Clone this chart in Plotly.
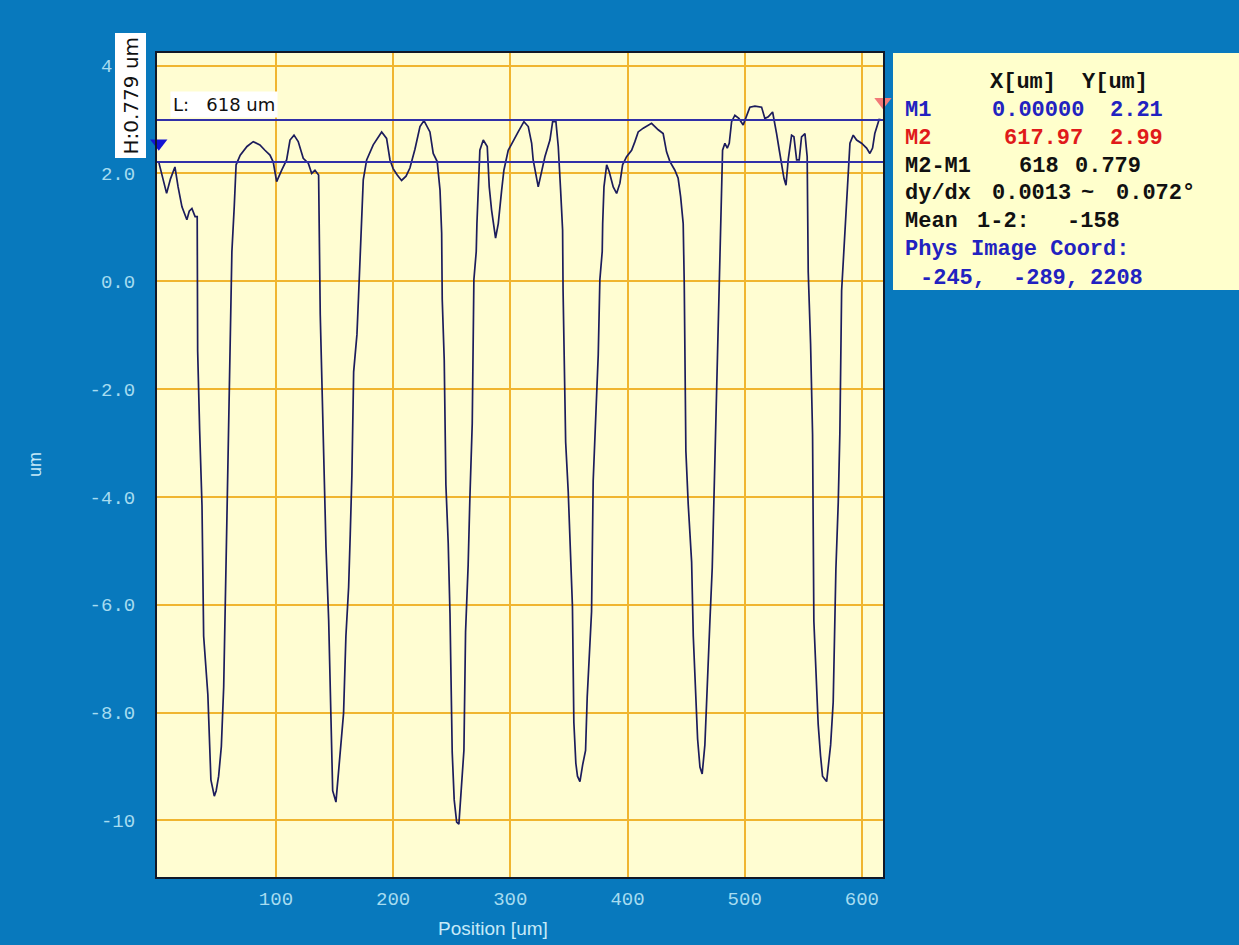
import plotly.graph_objects as go

# ---------------- data ----------------
position_um = [
    0.0, 3.0, 6.7, 10.0, 13.8, 16.5, 19.8, 24.0, 26.0, 28.3, 31.0, 32.8,
    33.2, 34.9, 36.9, 38.3, 40.5, 41.9, 44.5, 47.4, 49.0, 51.1, 53.4, 55.4, 58.2, 59.6, 61.0, 62.4,
    64.4, 66.0, 69.5, 75.3, 80.6, 86.3, 90.6, 94.9, 97.7, 100.6, 104.9, 109.1, 112.0, 115.4, 119.0, 123.3, 127.6, 130.5, 133.3, 136.4,
    137.8, 140.7, 142.7, 145.0, 146.3, 148.4, 151.2, 154.9, 157.7, 159.7, 162.0, 163.4, 164.8, 166.3, 169.1, 170.5, 171.9,
    173.1, 174.5, 177.4, 183.0, 190.2, 194.4, 197.3, 200.0, 203.5, 207.2, 211.0, 214.3, 218.6, 222.9, 226.3, 231.4, 234.2, 237.6, 240.0, 241.4,
    241.9, 243.6, 245.0, 247.0, 248.5, 250.4, 252.1, 254.2, 256.1, 258.4, 260.4, 261.8, 264.0, 265.5, 267.5, 268.9, 270.9,
    271.5, 272.6, 274.0, 276.9, 280.3, 282.0, 284.0, 287.4, 289.7, 292.6, 294.5, 298.2, 302.5, 306.7, 311.6, 315.3, 318.2, 319.5, 323.8, 326.7, 329.5, 333.8, 336.1, 338.9, 340.9, 342.9, 344.6,
    345.0, 345.7, 347.2, 349.4, 351.4, 353.0, 354.2, 355.9, 357.3, 359.4, 361.7, 364.2, 365.6, 367.3, 369.3, 370.7, 372.7, 375.0, 376.4, 378.4,
    378.8, 379.9, 382.2, 384.4, 387.8, 390.7, 393.5, 395.8, 399.2, 403.5, 406.3, 409.1, 413.4, 419.1, 420.5, 426.2, 430.4, 433.3, 436.2, 440.4, 443.2, 445.3, 447.5,
    448.4, 449.8, 451.8, 453.3, 454.7, 456.1, 458.0, 459.8, 461.8, 463.7, 466.0, 468.3, 470.3, 472.3, 473.7, 476.0, 477.4, 478.8,
    479.3, 481.1, 483.1, 485.1, 486.8, 488.8, 491.6, 495.0, 498.7, 501.0, 504.4, 508.7, 514.4, 517.2, 520.1, 523.8, 525.2, 527.2, 529.5, 531.5, 533.5, 535.2, 537.1, 540.0, 542.0, 544.3, 546.5, 548.5, 551.4, 553.3,
    554.2, 556.2, 557.9, 559.0, 560.8, 562.7, 564.7, 566.4, 569.9, 573.3, 575.5, 577.8, 579.8, 581.2, 582.7, 584.6,
    586.3, 588.3, 589.8, 592.6, 595.5, 599.7, 604.0, 606.8, 609.1, 611.0, 613.0, 614.7, 617.97,
]
height_um = [
    2.21, 1.95, 1.63, 1.90, 2.12, 1.75, 1.38, 1.14, 1.30, 1.35, 1.20, 1.20,
    -1.30, -2.77, -4.16, -6.58, -7.26, -7.67, -9.25, -9.55, -9.45, -9.18, -8.63, -7.53, -4.35, -2.67, -1.13, 0.55,
    1.38, 2.16, 2.34, 2.50, 2.59, 2.53, 2.43, 2.34, 2.21, 1.85, 2.06, 2.25, 2.62, 2.71, 2.59, 2.28, 2.19, 2.00, 2.06, 1.97,
    -0.62, -3.49, -4.93, -6.30, -7.74, -9.45, -9.66, -8.70, -8.01, -6.58, -5.68, -4.69, -3.60, -1.68, -0.99, -0.27, 0.55,
    1.26, 1.88, 2.25, 2.53, 2.77, 2.65, 2.25, 2.09, 1.97, 1.87, 1.95, 2.10, 2.45, 2.87, 2.98, 2.77, 2.37, 2.22, 1.69, 0.89,
    -0.34, -1.47, -3.77, -4.86, -6.16, -8.73, -9.62, -10.03, -10.07, -9.38, -8.70, -6.51, -5.27, -4.01, -2.64, 0.03, 0.55,
    1.07, 1.82, 2.43, 2.62, 2.50, 1.75, 1.32, 0.80, 1.07, 1.69, 2.06, 2.43, 2.59, 2.77, 2.96, 2.87, 2.56, 2.25, 1.75, 2.06, 2.31, 2.62, 2.96, 2.96, 2.50, 1.69, 0.95,
    -0.17, -1.23, -2.98, -3.90, -4.97, -6.03, -8.18, -8.94, -9.18, -9.28, -8.97, -8.70, -7.71, -7.02, -6.13, -3.70, -2.57, -1.37, 0.03, 0.55,
    1.07, 1.75, 2.16, 2.03, 1.75, 1.63, 1.82, 2.16, 2.31, 2.43, 2.59, 2.77, 2.84, 2.90, 2.93, 2.81, 2.74, 2.40, 2.22, 2.06, 1.91, 1.57, 1.07,
    -0.03, -3.15, -4.14, -4.76, -5.21, -6.58, -7.57, -8.49, -9.01, -9.14, -8.60, -7.19, -6.30, -5.31, -4.08, -1.58, -0.31, 0.55,
    0.95, 2.43, 2.56, 2.47, 2.56, 2.96, 3.08, 3.02, 2.90, 3.05, 3.23, 3.25, 3.23, 3.02, 3.05, 3.14, 2.99, 2.74, 2.43, 2.12, 1.91, 1.78, 2.25, 2.71, 2.68, 2.25, 2.25, 2.68, 2.74, 2.31,
    0.17, -1.16, -2.84, -6.30, -7.43, -8.22, -8.80, -9.18, -9.28, -8.60, -7.81, -5.34, -4.11, -2.81, -0.17, 0.55,
    1.38, 2.00, 2.56, 2.71, 2.62, 2.56, 2.47, 2.37, 2.47, 2.74, 2.90, 3.00, 2.99,
]

marker_names = ["M1", "M2"]
marker_x_um = [0.00000, 617.97]
marker_y_um = [2.21, 2.99]
delta_x_um = "618"
delta_y_um = "0.779"
slope_dydx = "0.0013"
slope_angle = "0.072°"
mean_12 = "-158"
phys_coord = ["-245,", "-289,", "2208"]

x_tickvals = [100, 200, 300, 400, 500, 600]
x_ticktext = ["100", "200", "300", "400", "500", "600"]
y_tickvals = [4, 2, 0, -2, -4, -6, -8, -10]
y_ticktext = ["4.0", "2.0", "0.0", "-2.0", "-4.0", "-6.0", "-8.0", "-10"]

# ---------------- layout helpers (pixel -> paper) ----------------
W, H = 1239, 945
PL, PR, PT, PB = 157, 883, 53, 877


def fx(px):
    return (px - PL) / (PR - PL)


def fy(py):
    return (PB - py) / (PB - PT)


BG = "#0879bd"
PLOT_BG = "#fffdd2"
GRID = "#f0b530"
TICK_COL = "#a6dcf0"
TITLE_COL = "#c6eaf8"
CURVE = "#1c1c5c"
MLINE = "#3030a8"
BLUE_TXT = "#2222c0"
RED_TXT = "#e01a1a"
BLK_TXT = "#111111"

fig = go.Figure()

fig.add_trace(go.Scatter(
    x=position_um, y=height_um, mode="lines",
    line=dict(color=CURVE, width=1.7), showlegend=False, hoverinfo="skip",
))

# marker triangles (drawn just above each marker line)
tri_y = [marker_y_um[0] + 0.35, marker_y_um[1] + 0.34]
fig.add_trace(go.Scatter(
    x=marker_x_um, y=tri_y, mode="markers", cliponaxis=False,
    marker=dict(symbol="triangle-down", size=15, color=["#1414d4", "#f27a78"],
                line=dict(width=0)),
    showlegend=False, hoverinfo="skip",
))

shapes = []
for my in marker_y_um:
    shapes.append(dict(type="line", xref="paper", yref="y", x0=0, x1=1, y0=my, y1=my,
                       line=dict(color=MLINE, width=2), layer="above"))
# info panel background
shapes.append(dict(type="rect", xref="paper", yref="paper",
                   x0=fx(893), x1=fx(1239), y0=fy(290), y1=fy(53),
                   fillcolor="#ffffcc", line=dict(width=0), layer="below"))

annotations = []
# L label
annotations.append(dict(xref="paper", yref="paper", x=fx(170), y=fy(104),
                        xanchor="left", yanchor="middle", showarrow=False,
                        text="L:   " + delta_x_um + " um", bgcolor="#ffffff", borderpad=2,
                        font=dict(family="DejaVu Sans", size=18, color="#111111")))
# H label (vertical)
annotations.append(dict(xref="paper", yref="paper", x=fx(130.5), y=fy(96),
                        xanchor="center", yanchor="middle", showarrow=False, textangle=-90,
                        text="H:" + delta_y_um + " um", bgcolor="#ffffff", borderpad=3,
                        font=dict(family="DejaVu Sans", size=20, color="#111111")))
# axis titles
annotations.append(dict(xref="paper", yref="paper", x=fx(35), y=fy(465),
                        xanchor="center", yanchor="middle", showarrow=False, textangle=-90,
                        text="um", font=dict(family="Liberation Sans", size=18, color=TITLE_COL)))
annotations.append(dict(xref="paper", yref="paper", x=fx(493), y=fy(928),
                        xanchor="center", yanchor="middle", showarrow=False,
                        text="Position [um]", font=dict(family="Liberation Sans", size=19, color=TITLE_COL)))

# info panel text tokens: (text, left px, row, colour)
row_y = [83, 111, 138, 166, 194, 222, 250, 278]
tokens = [
    ("X[um]", 988, 0, BLK_TXT), ("Y[um]", 1080, 0, BLK_TXT),
    (marker_names[0], 903, 1, BLUE_TXT), (f"{marker_x_um[0]:.5f}", 990, 1, BLUE_TXT), (f"{marker_y_um[0]:.2f}", 1108, 1, BLUE_TXT),
    (marker_names[1], 903, 2, RED_TXT), (f"{marker_x_um[1]:.2f}", 1002, 2, RED_TXT), (f"{marker_y_um[1]:.2f}", 1108, 2, RED_TXT),
    ("M2-M1", 903, 3, BLK_TXT), (delta_x_um, 1017, 3, BLK_TXT), (delta_y_um, 1073, 3, BLK_TXT),
    ("dy/dx", 903, 4, BLK_TXT), (slope_dydx, 990, 4, BLK_TXT), ("~", 1079, 4, BLK_TXT), (slope_angle, 1114, 4, BLK_TXT),
    ("Mean", 903, 5, BLK_TXT), ("1-2:", 975, 5, BLK_TXT), (mean_12, 1065, 5, BLK_TXT),
    ("Phys Image Coord:", 903, 6, BLUE_TXT),
    (phys_coord[0], 918, 7, BLUE_TXT), (phys_coord[1], 1011, 7, BLUE_TXT), (phys_coord[2], 1088, 7, BLUE_TXT),
]
for txt, px, row, col in tokens:
    annotations.append(dict(xref="paper", yref="paper", x=fx(px), y=fy(row_y[row]),
                            xanchor="left", yanchor="middle", showarrow=False,
                            text="<b>" + txt + "</b>",
                            font=dict(family="Liberation Mono", size=22, color=col)))

axis_common = dict(
    showgrid=True, gridcolor=GRID, gridwidth=1.6, zeroline=False,
    showline=True, mirror=True, linecolor="#101828", linewidth=2,
    ticks="", tickfont=dict(family="Liberation Mono", size=19, color=TICK_COL),
)

fig.update_layout(
    width=W, height=H,
    margin=dict(l=PL, r=W - PR, t=PT, b=H - PB, pad=0),
    paper_bgcolor=BG, plot_bgcolor=PLOT_BG,
    xaxis=dict(range=[-1.5, 618.0], tickmode="array", tickvals=x_tickvals, ticktext=x_ticktext,
               ticklabelstandoff=3, **axis_common),
    yaxis=dict(range=[-11.05, 4.234], tickmode="array", tickvals=y_tickvals, ticktext=y_ticktext,
               ticklabelstandoff=16, **axis_common),
    shapes=shapes, annotations=annotations, showlegend=False,
)

fig.write_html("out.html", config={"displayModeBar": False},
               post_script="document.body.style.margin='0';document.body.style.overflow='hidden';")
